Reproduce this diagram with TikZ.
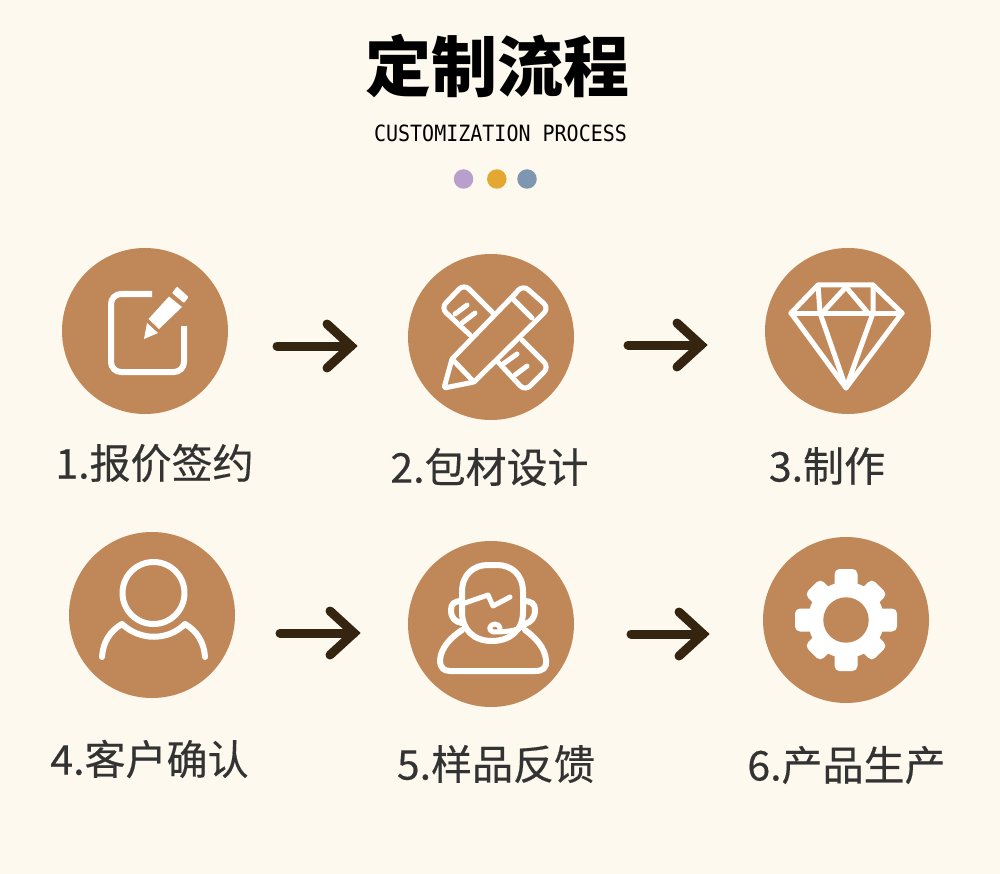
\documentclass[tikz,border=0pt]{standalone}
\usepackage{fontspec}
\usetikzlibrary{calc}
\newfontfamily\cjkreg{Noto Sans CJK SC}[FakeBold=0.4]
\newfontfamily\cjkheavy{Noto Sans CJK SC Black}
\newfontfamily\monolat{DejaVu Sans Mono}
\definecolor{paper}{HTML}{FEF9EE}
\definecolor{disc}{HTML}{C08859}
\definecolor{inkdark}{HTML}{35240F}
\definecolor{labelink}{HTML}{333333}
\definecolor{dotpurple}{HTML}{B9A0CC}
\definecolor{dotyellow}{HTML}{E3A832}
\definecolor{dotblue}{HTML}{7F96B0}
\tikzset{
 stepdisc/.style={circle,fill=disc,draw=none,minimum size=166pt,inner sep=0pt},
 dotmark/.style={circle,draw=none,minimum size=19.5pt,inner sep=0pt},
 steplabel/.style={font=\cjkreg\fontsize{41}{48}\selectfont,text=labelink,inner sep=0pt,anchor=center},
 flowline/.style={draw=inkdark,line width=9pt,line cap=round,miter limit=10},
 iconthick/.style={draw=white,line width=6pt,line cap=round,line join=round},
 iconthin/.style={draw=white,line width=5pt,line cap=round,line join=round},
 iconagent/.style={draw=white,line width=6pt,line cap=round,line join=round},
}
\newcommand{\flowarrow}[2]{%
 \draw[flowline] (#1) -- (#2);
 \draw[flowline] ($(#2)+(-24,-22)$) -- (#2) -- ($(#2)+(-24,22)$);
}
\begin{document}
\begin{tikzpicture}[x=1pt,y=-1pt]
\fill[paper] (0,0) rectangle (1000,874);
\useasboundingbox (0,0) rectangle (1000,874);
% heading
\node[inner sep=0pt,font=\cjkheavy\fontsize{66}{70}\selectfont,text=black] (title) at (497,66) {定制流程};
\node[inner sep=0pt,yscale=1.12,transform shape,font=\monolat\fontsize{20}{24}\selectfont,text=black] (subtitle) at (500.5,133) {CUSTOMIZATION PROCESS};
\node[dotmark,fill=dotpurple] (dot1) at (463.5,179) {};
\node[dotmark,fill=dotyellow] (dot2) at (496.8,179) {};
\node[dotmark,fill=dotblue] (dot3) at (527,179) {};
% discs
\node[stepdisc] (s1) at (145,331) {};
\node[stepdisc] (s2) at (491,337) {};
\node[stepdisc] (s3) at (848,331) {};
\node[stepdisc] (s4) at (152,615) {};
\node[stepdisc] (s5) at (491,624) {};
\node[stepdisc] (s6) at (846,620) {};
% labels
\node[steplabel] (l1) at (154.5,463) {1.报价签约};
\node[steplabel] (l2) at (489.5,467) {2.包材设计};
\node[steplabel] (l3) at (827,466) {3.制作};
\node[steplabel] (l4) at (149.5,759) {4.客户确认};
\node[steplabel] (l5) at (496,764) {5.样品反馈};
\node[steplabel] (l6) at (846.5,765) {6.产品生产};
% arrows
\coordinate (a1s) at (277,346); \coordinate (a1t) at (351,346);
\coordinate (a2s) at (628,345); \coordinate (a2t) at (701,345);
\coordinate (a3s) at (280,633); \coordinate (a3t) at (354,633);
\coordinate (a4s) at (631,634); \coordinate (a4t) at (703,634);
\flowarrow{a1s}{a1t}
\flowarrow{a2s}{a2t}
\flowarrow{a3s}{a3t}
\flowarrow{a4s}{a4t}
% icon 1: note and pencil
\draw[iconthick,line cap=butt,rounded corners=10pt] (152,294) -- (111,294) -- (111,372) -- (184,372) -- (184,326);
\fill[white] (169,296.5) -- (182,307) -- (159,329) -- (148.5,319) -- cycle;
\fill[white] (147,323) -- (158,333) -- (144,339) -- cycle;
\fill[white,rounded corners=1pt] (177,286.5) -- (188.5,297) -- (184,303) -- (172,293) -- cycle;
% icon 2: ruler and pencil
\draw[iconthin,rounded corners=7pt] (470,335) -- (441,308) -- (464,284) -- (493,313);
\draw[iconthin,rounded corners=7pt] (498,362) -- (525,391) -- (549,367) -- (522,340);
\draw[iconthin] (455,314) -- (467,305);
\draw[iconthin] (462,323) -- (475,313);
\draw[iconthin] (503,364) -- (517,354);
\draw[iconthin] (515,375) -- (527,366);
\draw[iconthin] (452,359) -- (516,293);
\draw[iconthin,rounded corners=7pt] (513,296) -- (523,285) -- (549,308) -- (474,382);
\draw[iconthin,rounded corners=2pt] (452,359) -- (444,388) -- (474,382) -- cycle;
\draw[iconthin] (513,299) -- (532,318);
% icon 3: diamond
\draw[iconthin] (818,285) -- (873,285) -- (902,313) -- (846,388) -- (791,313) -- cycle;
\draw[iconthin] (791,313) -- (902,313);
\draw[iconthin] (818,285) -- (820,313) -- (846,388) -- (873,313) -- (873,285);
\draw[iconthin] (822,313) -- (846,287) -- (868,313);
% icon 4: person
\coordinate (headc) at (153.5,593);
\draw[iconthick] (headc) circle[radius=31pt];
\draw[iconthick] (102,657) .. controls (103,642) and (110,631) .. (122,624) .. controls (140,641) and (168,641) .. (185,624) .. controls (197,631) and (204,642) .. (205,657);
% icon 5: agent
\draw[iconagent] (462,600) -- (462,592) .. controls (462,574) and (474,565) .. (488,565) -- (497,565) .. controls (511,565) and (523,574) .. (523,592) -- (523,612) .. controls (523,630) and (510,641) .. (492,641) .. controls (474,641) and (462,630) .. (462,612) -- cycle;
\draw[iconagent] (462,601) .. controls (454,601) and (451,604) .. (451,610) .. controls (451,618) and (455,622) .. (462,623);
\draw[iconagent] (523,601) .. controls (532,601) and (535,604) .. (535,610) .. controls (535,618) and (531,622) .. (525,624);
\draw[iconagent,line width=5pt] (462,604) -- (488,595) -- (493,606) -- (510,597);
\draw[iconagent,line width=5pt] (525,625) .. controls (518,631) and (505,632) .. (493,632) .. controls (487,630) and (490,624) .. (495,624) .. controls (498,624) and (500,626) .. (500,628);
\draw[iconagent] (462,630) .. controls (450,638) and (441,648) .. (440,660) .. controls (440,668) and (444,671) .. (450,671) -- (535,671) .. controls (543,671) and (547,668) .. (546,660) .. controls (545,648) and (536,638) .. (525,630);
% icon 6: gear
\begin{scope}[shift={(846,620)}]
\foreach \ang in {0,90,180,270}{
 \fill[white,rounded corners=5pt,rotate=\ang] (-11.5,-51) rectangle (11.5,-25);
}
\foreach \ang in {45,135,225,315}{
 \fill[white,rounded corners=5pt,rotate=\ang] (-11,-47.5) rectangle (11,-25);
}
\fill[white] (0,0) circle[radius=38pt];
\fill[disc] (0,0) circle[radius=22.7pt];
\end{scope}
\end{tikzpicture}
\end{document}
